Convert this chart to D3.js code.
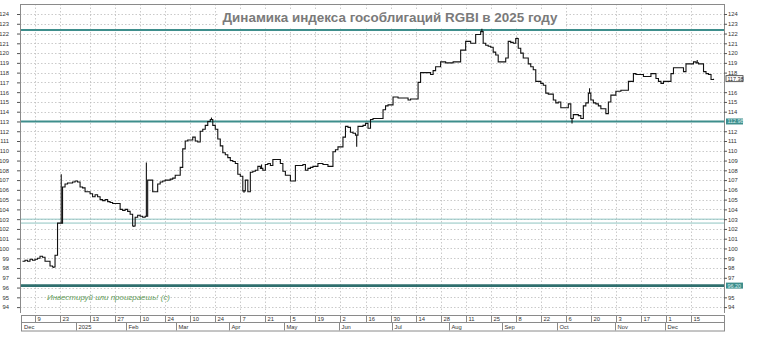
<!DOCTYPE html>
<meta charset="utf-8">
<style>
  body { margin: 0; background: #fff; }
  svg { display: block; }
  text { font-family: "Liberation Sans", Arial, sans-serif; }
</style>
<svg></svg>
<script src="https://cdn.jsdelivr.net/npm/d3@7/dist/d3.min.js"></script>
<script>
// daily closes of RGBI, from 2 Dec 2024, one value per trading day
var closes = [
  98.7, 98.8, 98.7, 98.9, 98.8,
  98.9, 99.0, 99.2, 99.1, 98.7,
  98.7, 98.2, 98.1, 99.3, 102.6,
  102.6, 106.3, 106.6, 106.7, 106.7,
  106.8, 106.9, 106.8, 106.3, 106.2,
  105.8, 105.8, 105.6, 105.3, 105.5,
  105.3, 105.0, 104.9, 105.0, 104.8,
  104.7, 104.6, 104.6, 104.6, 104.0,
  103.9, 104.0, 103.8, 103.5, 102.3,
  103.2, 103.4, 103.3, 103.2, 103.3,
  107.0, 107.0, 105.8, 105.8, 106.6,
  106.8, 106.9, 107.0, 107.0, 107.1,
  107.2, 107.5, 107.5, 108.3, 110.2,
  111.0, 111.1, 111.1, 111.4, 111.0,
  110.9, 112.0, 112.2, 112.6, 113.0,
  113.2, 112.6, 112.2, 111.2, 110.5,
  109.8, 109.6, 109.3, 109.0, 108.9,
  108.7, 107.6, 107.4, 105.9, 107.0,
  105.8, 107.8, 107.9, 108.0, 108.4,
  108.2, 108.0, 108.6, 108.7, 108.5,
  109.1, 109.1, 109.1, 108.7, 107.9,
  107.5, 107.5, 106.9, 106.9, 108.5,
  108.5, 108.5, 108.6, 108.0, 108.2,
  108.3, 108.4, 108.4, 108.7, 108.7,
  108.6, 108.6, 108.4, 108.4, 109.9,
  110.1, 110.4, 110.4, 111.4, 112.5,
  112.4, 111.9, 111.8, 111.6, 112.5,
  112.5, 112.6, 112.8, 112.3, 113.2,
  113.3, 113.3, 113.3, 113.3, 114.2,
  114.6, 114.7, 114.7, 115.5, 115.5,
  115.4, 115.4, 115.4, 115.4, 115.2,
  115.3, 115.3, 115.3, 117.0, 118.0,
  118.0, 118.0, 118.0, 117.8, 118.2,
  118.6, 118.6, 119.1, 119.1, 119.0,
  119.0, 119.0, 119.1, 119.1, 119.1,
  120.3, 120.3, 121.2, 121.2, 121.0,
  121.0, 121.9, 121.9, 122.2, 121.0,
  120.8, 120.7, 120.6, 120.1, 119.8,
  119.1, 119.1, 119.1, 119.5, 121.2,
  121.1, 121.0, 121.5, 120.5, 120.0,
  119.5, 119.5, 118.9, 118.6, 118.3,
  117.1, 117.1, 116.9, 116.7, 115.9,
  115.8, 115.8, 115.2, 114.9, 115.0,
  114.4, 114.4, 114.4, 114.8, 113.3,
  113.7, 113.7, 113.6, 113.3, 114.6,
  114.9, 115.9, 115.2, 114.9, 114.8,
  114.6, 114.3, 114.3, 113.8, 115.0,
  115.7, 115.7, 116.1, 116.1, 116.2,
  116.2, 116.2, 117.1, 117.1, 117.9,
  117.8, 117.8, 117.8, 117.6, 117.6,
  117.6, 117.9, 117.9, 117.4, 117.1,
  116.9, 117.1, 117.1, 117.1, 117.9,
  118.5, 118.5, 118.5, 118.5, 118.1,
  118.9, 118.9, 118.9, 119.1, 119.0,
  118.9, 118.9, 118.1, 117.9, 117.8,
  117.3, 117.38
];

// intraday extremes that stick out of the close line: [day index, value]
var spikes = [
  [12, 98.0], [15, 107.6], [44, 102.2], [49, 108.8], [75, 113.4],
  [88, 105.7], [95, 108.6], [133, 110.4], [183, 122.5], [197, 121.6],
  [219, 112.8], [226, 116.4], [269, 119.3]
];

var firstDay = "2024-12-02";
var holidays = ["2025-01-01", "2025-01-02", "2025-01-07"];

var dayTicks = [
  "2024-12-09", "2024-12-23", "2025-01-13", "2025-01-27", "2025-02-10",
  "2025-02-24", "2025-03-10", "2025-03-24", "2025-04-07", "2025-04-21",
  "2025-05-05", "2025-05-19", "2025-06-02", "2025-06-16", "2025-06-30",
  "2025-07-14", "2025-07-28", "2025-08-11", "2025-08-25", "2025-09-08",
  "2025-09-22", "2025-10-06", "2025-10-20", "2025-11-03", "2025-11-17",
  "2025-12-01", "2025-12-15"
];
var monthNames = ["Dec", "2025", "Feb", "Mar", "Apr", "May", "Jun",
                  "Jul", "Aug", "Sep", "Oct", "Nov", "Dec"];

var yTicks = d3.range(94, 125);
var strongLevels = [122.37, 113.0];
var floorLevel = 96.2;
var thinLevels = [103.0, 102.6];
var levelLabels = ["112.98", "96.20"];
var lastLabel = "117.38";

var title = "Динамика индекса гособлигаций RGBI в 2025 году";
var motto = "Инвестируй или проиграешь! (c)";

var W = 758, H = 337;
var pL = 20, pR = 724, pT = 4, pB = 313;

var svg = d3.select("svg").attr("width", W).attr("height", H);

// trading calendar
var fmt = d3.timeFormat("%Y-%m-%d");
var dates = [];
var day = d3.timeParse("%Y-%m-%d")(firstDay);
while (dates.length < closes.length) {
  var wd = day.getDay();
  if (wd != 0 && wd != 6 && holidays.indexOf(fmt(day)) < 0) dates.push(new Date(day));
  day = d3.timeDay.offset(day, 1);
}
var dateIndex = {};
dates.forEach(function(dt, i) { dateIndex[fmt(dt)] = i; });

var x = d3.scaleLinear().domain([5, 267]).range([35, 691]);
var y = d3.scaleLinear().domain([94, 124]).range([307.1, 14]);

svg.append("defs").append("clipPath").attr("id", "plot")
  .append("rect").attr("x", pL).attr("y", pT)
  .attr("width", pR - pL).attr("height", pB - pT);

// grid
var grid = svg.append("g").attr("stroke", "#bcbcbc").attr("stroke-dasharray", "1.5,2").attr("stroke-width", 0.8);
grid.selectAll(".h").data(yTicks).enter().append("line")
  .attr("x1", pL).attr("x2", pR)
  .attr("y1", function(v) { return Math.round(y(v)) + 0.5; })
  .attr("y2", function(v) { return Math.round(y(v)) + 0.5; });
grid.selectAll(".v").data(dayTicks).enter().append("line")
  .attr("x1", function(t) { return Math.round(x(dateIndex[t])) + 0.5; })
  .attr("x2", function(t) { return Math.round(x(dateIndex[t])) + 0.5; })
  .attr("y1", pT).attr("y2", pB);

// reference levels
svg.selectAll(".thin").data(thinLevels).enter().append("line")
  .attr("x1", pL).attr("x2", pR)
  .attr("y1", function(v) { return y(v); }).attr("y2", function(v) { return y(v); })
  .attr("stroke", "#8fc4c2").attr("stroke-width", 1);
svg.selectAll(".strong").data(strongLevels).enter().append("line")
  .attr("x1", pL).attr("x2", pR)
  .attr("y1", function(v) { return y(v); }).attr("y2", function(v) { return y(v); })
  .attr("stroke", "#3e8e8c").attr("stroke-width", 2);
svg.append("line")
  .attr("x1", pL).attr("x2", pR)
  .attr("y1", y(floorLevel)).attr("y2", y(floorLevel))
  .attr("stroke", "#2f6f6e").attr("stroke-width", 2.6);

// title
var tg = svg.append("g");
tg.append("rect").attr("x", 218).attr("y", 9).attr("width", 346).attr("height", 18).attr("fill", "#fff");
tg.append("text").attr("x", 390).attr("y", 22).attr("text-anchor", "middle")
  .attr("font-family", "'DejaVu Sans', sans-serif").attr("font-weight", "bold")
  .attr("font-size", 12.5).attr("fill", "#7a7a7a")
  .attr("textLength", 335).attr("lengthAdjust", "spacingAndGlyphs")
  .text(title);

// motto
svg.append("text").attr("x", 47).attr("y", 300)
  .attr("font-size", 7.5).attr("font-style", "italic").attr("fill", "#5f9a58")
  .attr("textLength", 123).attr("lengthAdjust", "spacingAndGlyphs")
  .text(motto);

// price line
var pg = svg.append("g").attr("clip-path", "url(#plot)");
pg.append("path").datum(closes)
  .attr("fill", "none").attr("stroke", "#111").attr("stroke-width", 1.1)
  .attr("d", d3.line().curve(d3.curveStepAfter)
    .x(function(v, i) { return x(i); })
    .y(function(v) { return y(v); }));
pg.selectAll(".spike").data(spikes).enter().append("line")
  .attr("x1", function(s) { return x(s[0]) + 1.2; })
  .attr("x2", function(s) { return x(s[0]) + 1.2; })
  .attr("y1", function(s) { return y(closes[s[0]]); })
  .attr("y2", function(s) { return y(s[1]); })
  .attr("stroke", "#111").attr("stroke-width", 1.1);

// frame
svg.append("line").attr("x1", pL + 0.5).attr("x2", pR + 0.5).attr("y1", pT + 0.5).attr("y2", pT + 0.5).attr("stroke", "#8a8a8a");
svg.append("line").attr("x1", pL + 0.5).attr("x2", pL + 0.5).attr("y1", pT).attr("y2", pB).attr("stroke", "#8a8a8a");
svg.append("line").attr("x1", pR + 0.5).attr("x2", pR + 0.5).attr("y1", pT).attr("y2", pB).attr("stroke", "#8a8a8a");

// value axes; right-hand labels hidden under the tags are skipped
var fontSize = 5.8;
var hidden = [113, 96, 117];
var rightTicks = yTicks.filter(function(v) { return hidden.indexOf(v) < 0; });
var axL = svg.append("g").attr("transform", "translate(" + pL + ",0)")
  .call(d3.axisLeft(y).tickValues(yTicks).tickSize(3).tickPadding(8).tickFormat(d3.format("d")));
var axR = svg.append("g").attr("transform", "translate(" + pR + ",0)")
  .call(d3.axisRight(y).tickValues(rightTicks).tickSize(3).tickPadding(1).tickFormat(d3.format("d")));
[axL, axR].forEach(function(a) {
  a.select(".domain").remove();
  a.selectAll("line").attr("stroke", "#555");
  a.selectAll("text").attr("font-size", fontSize).attr("fill", "#333").attr("font-family", "'Liberation Sans', Arial, sans-serif");
});

// right-side value tags
function tag(v, txt, fill, color, stroke) {
  var g = svg.append("g").attr("transform", "translate(" + (pR + 2) + "," + y(v) + ")");
  g.append("rect").attr("x", 0).attr("y", -3).attr("width", 17).attr("height", 6)
    .attr("fill", fill).attr("stroke", stroke || "none").attr("stroke-width", 0.8);
  g.append("text").attr("x", 1.5).attr("y", 2).attr("font-size", 5.4).attr("fill", color).text(txt);
}
tag(strongLevels[1], levelLabels[0], "#3e8e8c", "#d8efee");
tag(floorLevel, levelLabels[1], "#3e8e8c", "#d8efee");
tag(closes[closes.length - 1], lastLabel, "#fff", "#222", "#333");

// date axis: two boxed rows
var rowTop = 315, rowMid = 322.5, rowBot = 330.5;
var ax = svg.append("g").attr("stroke", "#8a8a8a").attr("fill", "none");
ax.append("rect").attr("x", 21.5).attr("y", rowTop + 0.5).attr("width", pR - 21).attr("height", rowBot - rowTop);
ax.append("line").attr("x1", 21.5).attr("x2", pR + 0.5).attr("y1", rowMid).attr("y2", rowMid);

var dg = svg.append("g");
dayTicks.forEach(function(t) {
  var xi = Math.round(x(dateIndex[t])) + 0.5;
  dg.append("line").attr("x1", xi).attr("x2", xi).attr("y1", rowTop).attr("y2", rowMid).attr("stroke", "#8a8a8a");
  dg.append("text").attr("x", xi + 2).attr("y", rowMid - 1.6).attr("font-size", fontSize).attr("fill", "#333")
    .text(+t.slice(8));
});

var monthStarts = [];
dates.forEach(function(dt, i) {
  if (i == 0 || dt.getMonth() != dates[i - 1].getMonth()) monthStarts.push(i);
});
monthStarts.forEach(function(i, k) {
  var xi = Math.round(x(i) - 1.25) + 0.5;
  if (i > 0) dg.append("line").attr("x1", xi).attr("x2", xi).attr("y1", rowMid).attr("y2", rowBot).attr("stroke", "#8a8a8a");
  dg.append("text").attr("x", Math.max(xi, 22) + 2).attr("y", rowBot - 2).attr("font-size", fontSize).attr("fill", "#333")
    .text(monthNames[k]);
});
</script>
